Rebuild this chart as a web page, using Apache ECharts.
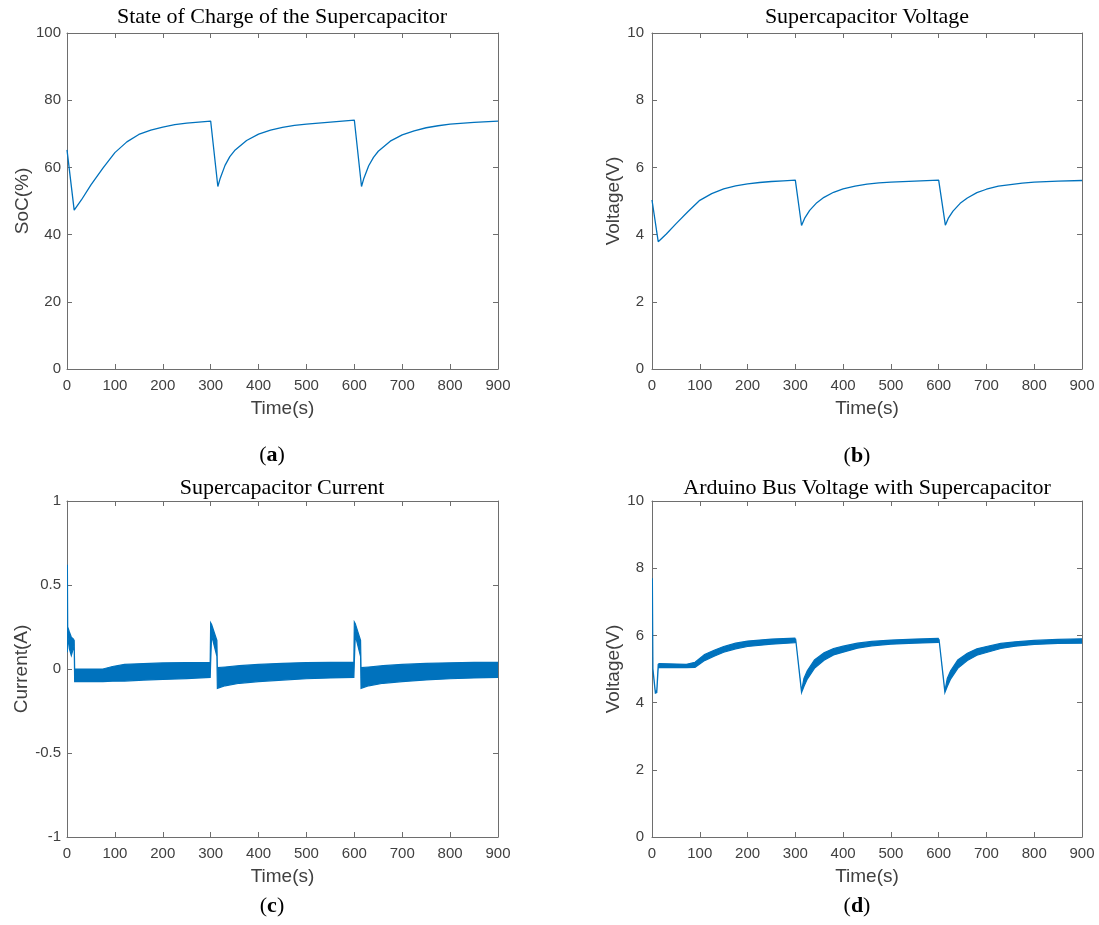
<!DOCTYPE html>
<html>
<head>
<meta charset="utf-8">
<title>Supercapacitor</title>
<script src="https://cdn.jsdelivr.net/npm/echarts@6/dist/echarts.min.js"></script>
<style>
html,body{margin:0;padding:0;background:#fff;}
#chart{width:1099px;height:925px;}
</style>
</head>
<body>
<div id="chart"></div>
<script>
// (a) state of charge, %
var socT = [0,15,30,50,75,100,125,150,175,200,225,250,275,300,315,320,330,340,350,375,400,425,450,475,500,550,600,615,620,630,640,650,675,700,725,750,775,800,850,900];
var socV = [65.2,47.3,50.3,54.8,59.8,64.4,67.6,69.8,71.1,72.0,72.7,73.2,73.5,73.8,54.3,56.8,60.6,63.2,65.0,68.0,69.9,71.1,71.9,72.5,72.9,73.5,74.1,54.3,56.8,60.5,63.0,64.8,67.8,69.7,70.9,71.8,72.4,72.9,73.4,73.8];

// (b) supercapacitor voltage, V
var volT = [0,13,30,50,75,100,125,150,175,200,225,250,275,300,313,320,330,345,360,380,400,425,450,475,500,550,600,614,620,630,645,660,680,700,725,750,775,800,850,900];
var volV = [5.03,3.79,4.02,4.32,4.68,5.02,5.22,5.36,5.45,5.51,5.55,5.58,5.60,5.62,4.27,4.50,4.72,4.95,5.11,5.26,5.36,5.44,5.50,5.54,5.56,5.59,5.62,4.28,4.48,4.70,4.93,5.09,5.25,5.35,5.44,5.49,5.53,5.56,5.59,5.61];

// (c) supercapacitor current, A (upper / lower envelope of the ripple band)
var curT  = [0.8,1.5,5,9,13,15, 16,40,75,95,120,160,200,250,299, 300,302,313, 314,330,360,400,450,500,550,599, 600,602,613, 614,630,660,700,750,800,850,900];
var curHi = [0.62,0.25,0.22,0.19,0.18,0.17, 0.0,0.0,0.0,0.015,0.027,0.032,0.036,0.038,0.04, 0.275,0.265,0.17, 0.008,0.012,0.02,0.027,0.034,0.038,0.04,0.04, 0.28,0.27,0.17, 0.008,0.012,0.02,0.027,0.033,0.037,0.04,0.04];
var curLo = [0.1,0.2,0.12,0.08,0.12,0.14, -0.075,-0.075,-0.075,-0.073,-0.072,-0.066,-0.062,-0.057,-0.05, 0.04,0.2,0.075, -0.115,-0.1,-0.085,-0.075,-0.066,-0.058,-0.053,-0.05, 0.04,0.2,0.075, -0.115,-0.1,-0.085,-0.075,-0.065,-0.058,-0.053,-0.05];

// (d) arduino bus voltage, V (upper / lower envelope)
var busT  = [0.8,2,7,10,13,15, 72,90,110,130,150,175,200,250,299, 301,313, 318,325,340,360,380,400,430,460,500,550,599, 601,613, 618,625,640,660,680,700,730,760,800,850,900];
var busHi = [7.7,5.0,4.32,4.36,5.14,5.16, 5.14,5.2,5.43,5.56,5.67,5.77,5.83,5.89,5.92, 5.86,4.34, 4.72,4.95,5.27,5.48,5.61,5.68,5.77,5.82,5.86,5.89,5.91, 5.86,4.34, 4.72,4.95,5.27,5.47,5.6,5.67,5.76,5.81,5.85,5.88,5.9];
var busLo = [7.7,4.96,4.28,4.3,5.04,5.05, 5.04,5.05,5.25,5.38,5.5,5.6,5.67,5.74,5.78, 5.84,4.3, 4.48,4.7,5.02,5.26,5.42,5.5,5.62,5.69,5.74,5.77,5.79, 5.84,4.3, 4.48,4.7,5.02,5.25,5.41,5.49,5.61,5.68,5.73,5.76,5.77];

var lineColor = '#0072BD';
var axisColor = '#6e6e6e';
var labelColor = '#404040';
var sans = '"Liberation Sans", Arial, sans-serif';
var serif = '"Liberation Serif", "Times New Roman", serif';

var chart = echarts.init(document.getElementById('chart'));

function pairs(t, v) {
	var out = [];
	for (var i = 0; i < t.length; i++) out.push([t[i], v[i]]);
	return out;
}

// band drawn as one polygon: upper edge forward, lower edge back
function bandRender(T, hi, lo) {
	return function(params, api) {
		var pts = [];
		for (var i = 0; i < T.length; i++) pts.push(api.coord([T[i], hi[i]]));
		for (var j = T.length - 1; j >= 0; j--) pts.push(api.coord([T[j], lo[j]]));
		return {
			type: 'polygon',
			shape: { points: pts },
			style: { fill: lineColor, stroke: lineColor, lineWidth: 1.2 }
		};
	};
}

function xAxes(g) {
	var base = {
		type: 'value', gridIndex: g, min: 0, max: 900, interval: 100,
		axisLine: { onZero: false, lineStyle: { color: axisColor } },
		axisTick: { inside: true, length: 5, lineStyle: { color: axisColor } },
		splitLine: { show: false }
	};
	var bottom = echarts.util.merge({
		position: 'bottom', name: 'Time(s)', nameLocation: 'middle', nameGap: 30,
		nameTextStyle: { fontSize: 19, color: labelColor, fontFamily: sans },
		axisLabel: { margin: 9, fontSize: 15, color: labelColor, fontFamily: sans }
	}, base, true);
	var top = echarts.util.merge({ position: 'top', axisLabel: { show: false } }, base, true);
	return [bottom, top];
}

function yAxes(g, min, max, step, name, gap, margin) {
	var base = {
		type: 'value', gridIndex: g, min: min, max: max, interval: step,
		axisLine: { show: true, onZero: false, lineStyle: { color: axisColor } },
		axisTick: { show: true, inside: true, length: 5, lineStyle: { color: axisColor } },
		splitLine: { show: false }
	};
	var left = echarts.util.merge({
		position: 'left', name: name, nameLocation: 'middle', nameGap: gap,
		nameTextStyle: { fontSize: 19, color: labelColor, fontFamily: sans },
		axisLabel: { margin: margin, fontSize: 15, color: labelColor, fontFamily: sans }
	}, base, true);
	var right = echarts.util.merge({ position: 'right', axisLabel: { show: false } }, base, true);
	return [left, right];
}

function label(x, y, text) {
	return {
		type: 'text', x: x, y: y, silent: true,
		style: { text: text, font: '22px ' + serif, fill: '#000', align: 'center', verticalAlign: 'middle' }
	};
}

function caption(x, y, letter) {
	return {
		type: 'text', x: x, y: y, silent: true,
		style: {
			text: '{p|(}{b|' + letter + '}{p|)}',
			align: 'center', verticalAlign: 'middle',
			rich: {
				p: { font: '22px ' + serif, fill: '#000' },
				b: { font: 'bold 22px ' + serif, fill: '#000' }
			}
		}
	};
}

var option = {
	animation: false,
	backgroundColor: '#fff',
	grid: [
		{ left: 67, top: 33, width: 431, height: 336 },
		{ left: 652, top: 33, width: 430, height: 336 },
		{ left: 67, top: 501, width: 431, height: 336 },
		{ left: 652, top: 501, width: 430, height: 336 }
	],
	xAxis: [].concat(xAxes(0), xAxes(1), xAxes(2), xAxes(3)),
	yAxis: [].concat(
		yAxes(0, 0, 100, 20, 'SoC(%)', 34, 6),
		yAxes(1, 0, 10, 2, 'Voltage(V)', 25, 8),
		yAxes(2, -1, 1, 0.5, 'Current(A)', 34, 6),
		yAxes(3, 0, 10, 2, 'Voltage(V)', 25, 8)
	),
	series: [
		{
			type: 'line', xAxisIndex: 0, yAxisIndex: 0, data: pairs(socT, socV),
			showSymbol: false, lineStyle: { color: lineColor, width: 1.3 }
		},
		{
			type: 'line', xAxisIndex: 2, yAxisIndex: 2, data: pairs(volT, volV),
			showSymbol: false, lineStyle: { color: lineColor, width: 1.3 }
		},
		{
			type: 'custom', xAxisIndex: 4, yAxisIndex: 4, data: [[0, 0]],
			renderItem: bandRender(curT, curHi, curLo), clip: true
		},
		{
			type: 'custom', xAxisIndex: 6, yAxisIndex: 6, data: [[0, 0]],
			renderItem: bandRender(busT, busHi, busLo), clip: true
		}
	],
	graphic: [
		label(282, 17, 'State of Charge of the Supercapacitor'),
		label(867, 17, 'Supercapacitor Voltage'),
		label(282, 488, 'Supercapacitor Current'),
		label(867, 488, 'Arduino Bus Voltage with Supercapacitor'),
		caption(272, 455, 'a'),
		caption(857, 456, 'b'),
		caption(272, 906, 'c'),
		caption(857, 906, 'd')
	]
};

chart.setOption(option);
</script>
</body>
</html>
